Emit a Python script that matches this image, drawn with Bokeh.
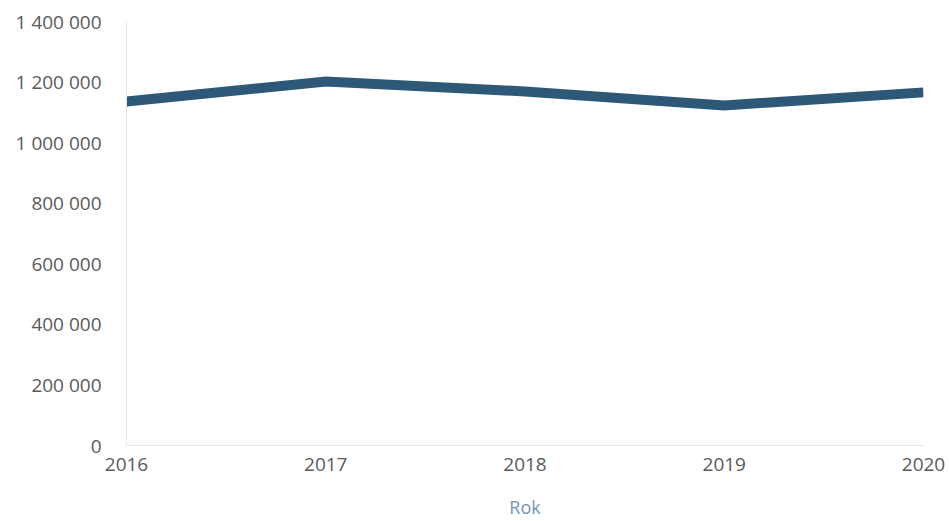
from bokeh.plotting import figure
from bokeh.models import FixedTicker, CustomJSTickFormatter, Range1d
from bokeh.embed import file_html
from bokeh.resources import INLINE

years = [2016, 2017, 2018, 2019, 2020]
values = [1136000, 1202000, 1169000, 1123000, 1166000]
y_ticks = [0, 200000, 400000, 600000, 800000, 1000000, 1200000, 1400000]

p = figure(width=949, height=521, output_backend="svg", toolbar_location=None,
           x_range=Range1d(2016, 2020), y_range=Range1d(0, 1400000),
           min_border_left=126, min_border_right=26, min_border_top=21, min_border_bottom=74)
p.outline_line_color = None
p.background_fill_color = "white"
p.border_fill_color = "white"

p.line(years, values, line_width=10, line_color="#2e5878", line_cap="butt", line_join="miter")

p.xgrid.grid_line_color = None
p.ygrid.grid_line_color = None

p.xaxis.ticker = FixedTicker(ticks=years)
p.yaxis.ticker = FixedTicker(ticks=y_ticks)
p.yaxis.formatter = CustomJSTickFormatter(code="""
return tick.toFixed(0).replace(/\\B(?=(\\d{3})+(?!\\d))/g, " ");
""")

for ax in (p.xaxis[0], p.yaxis[0]):
    ax.axis_line_color = "#e8e8e8"
    ax.major_tick_line_color = None
    ax.minor_tick_line_color = None
    ax.major_label_text_font = "Open Sans"
    ax.major_label_text_font_size = "19px"
    ax.major_label_text_color = "#5a5a5a"

p.xaxis.major_label_standoff = 6
p.yaxis.major_label_standoff = 19
p.xaxis.axis_label = "Rok"
p.xaxis.axis_label_text_font = "Open Sans"
p.xaxis.axis_label_text_font_size = "18px"
p.xaxis.axis_label_text_font_style = "normal"
p.xaxis.axis_label_text_color = "#7393b8"
p.xaxis.axis_label_standoff = 21

open("out.html", "w").write(file_html(p, INLINE))
